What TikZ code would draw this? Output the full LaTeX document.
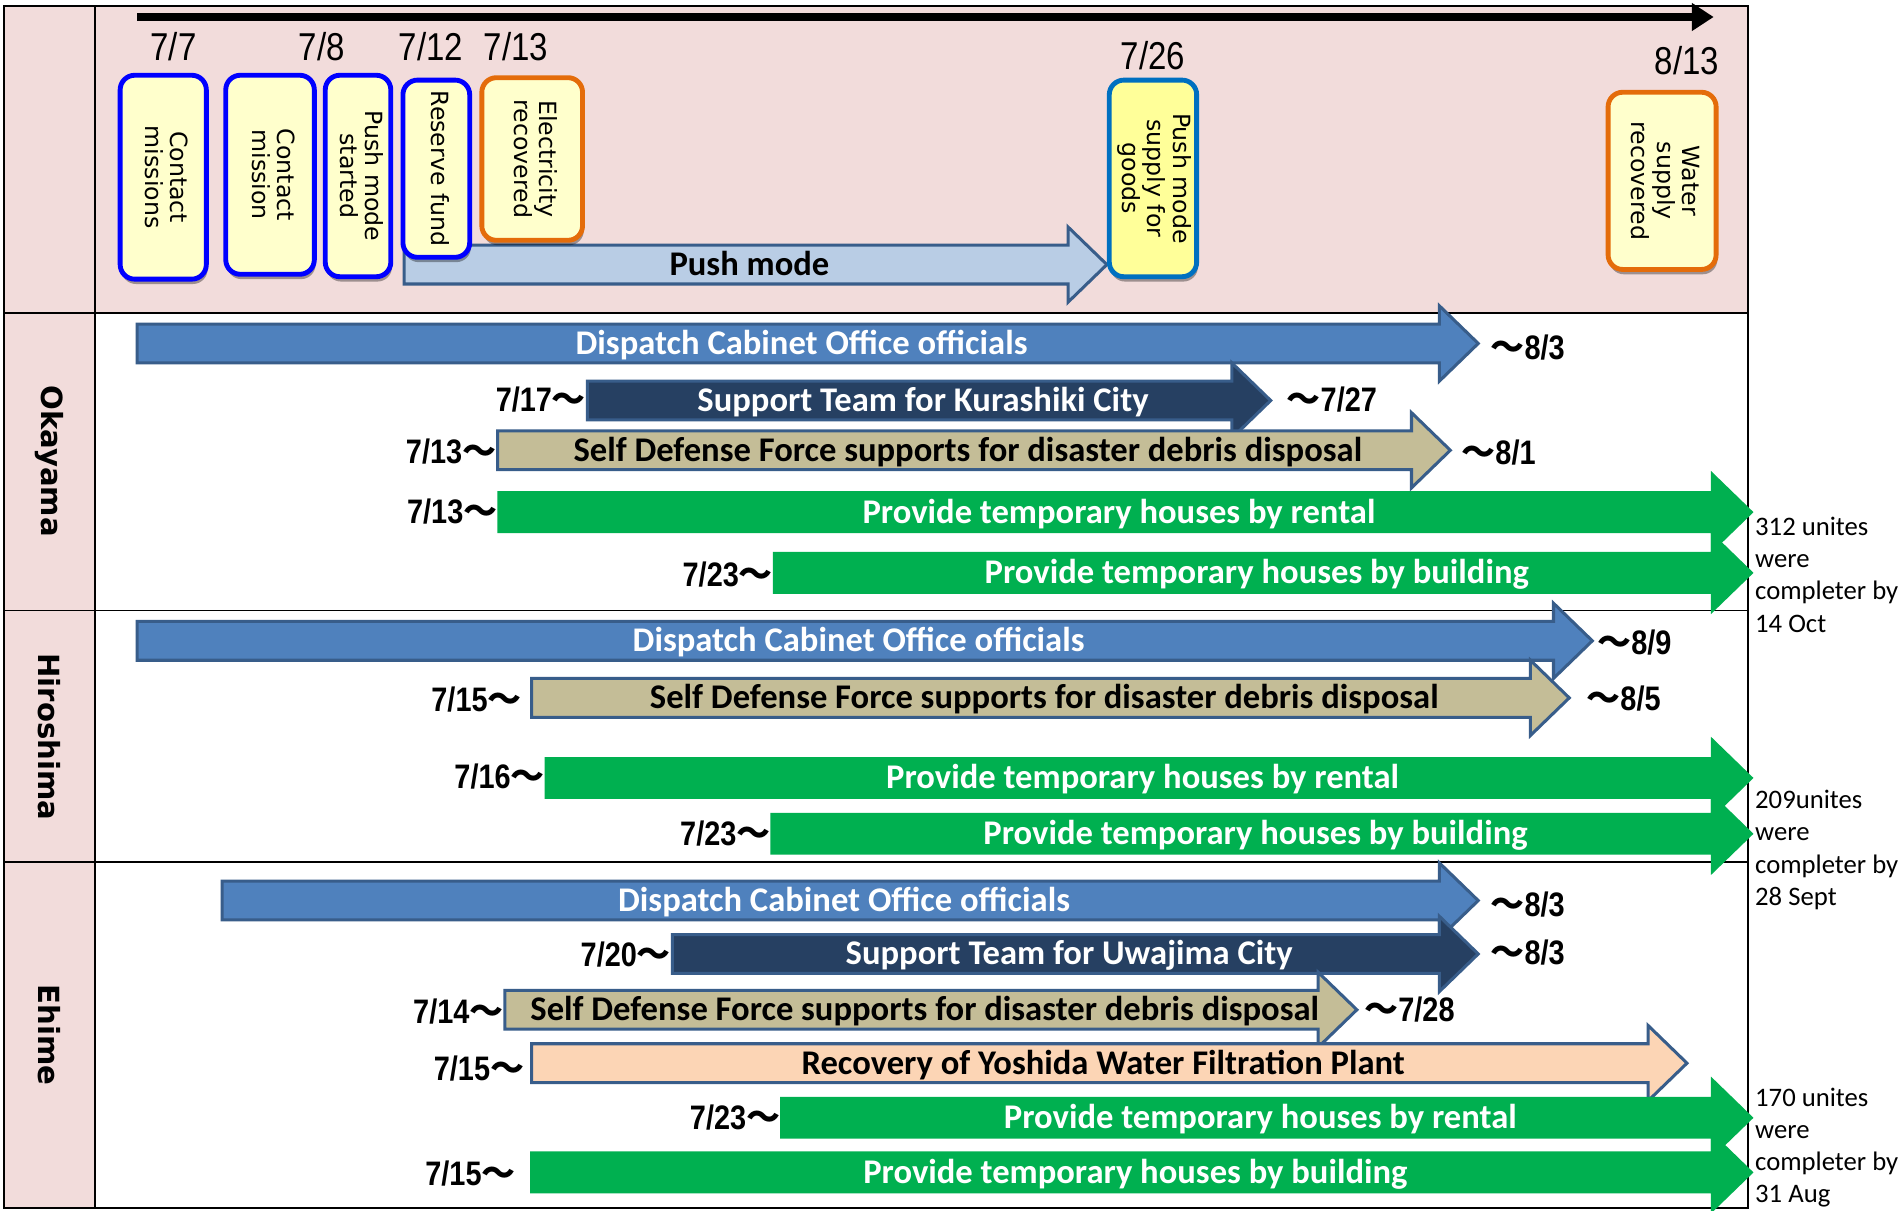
\documentclass[tikz,border=0pt]{standalone}
\usepackage{fontspec}
\usepackage{graphicx}
\setmainfont{Carlito}
\newfontfamily\datefont[FakeStretch=0.85]{Liberation Sans}
\newfontfamily\boxfont{DejaVu Sans}
\newfontfamily\cjkfont{Noto Sans CJK JP}
\usetikzlibrary{arrows.meta,shadows}
\definecolor{rowpink}{RGB}{242,220,219}
\definecolor{boxyellow}{RGB}{255,255,204}
\definecolor{goodsyellow}{RGB}{255,255,153}
\definecolor{edgeblue}{RGB}{0,0,255}
\definecolor{edgeorange}{RGB}{228,108,10}
\definecolor{edgesky}{RGB}{0,112,192}
\definecolor{barline}{RGB}{56,93,138}
\definecolor{barblue}{RGB}{79,129,189}
\definecolor{barnavy}{RGB}{38,64,98}
\definecolor{bartan}{RGB}{196,189,151}
\definecolor{barpeach}{RGB}{252,213,181}
\definecolor{bargreen}{RGB}{0,176,80}
\definecolor{barsky}{RGB}{185,205,229}
\newcommand{\tld}{{\cjkfont\bfseries ～}}
\newcommand{\vtext}[1]{\rotatebox{-90}{\begin{tabular}{@{}c@{}}#1\end{tabular}}}
\newcommand{\blockarrow}[6]{%
  \draw[#1bar] (#3,#5-16) -- (#4-32,#5-16) -- (#4-32,#5-31) -- (#4,#5) -- (#4-32,#5+31) -- (#4-32,#5+16) -- (#3,#5+16) -- cycle;
  \node[#1label] (#2) at ({(#3+#4)/2-5},#5) {#6};
}

\begin{document}
\begin{tikzpicture}[line join=miter,x=1pt,y=-1pt,
  bluebar/.style={fill=barblue,draw=barline,line width=2.5pt},
  navybar/.style={fill=barnavy,draw=barline,line width=2.5pt},
  tanbar/.style={fill=bartan,draw=barline,line width=2.5pt},
  peachbar/.style={fill=barpeach,draw=barline,line width=2.5pt},
  skybar/.style={fill=barsky,draw=barline,line width=2.5pt},
  greenbar/.style={fill=bargreen,draw=bargreen,line width=2.5pt},
  barfont/.style={inner sep=0pt,text height=18pt,text depth=0pt,font=\fontsize{28.5}{31}\selectfont\bfseries},
  bluelabel/.style={barfont,text=white},
  navylabel/.style={barfont,text=white},
  greenlabel/.style={barfont,text=white},
  tanlabel/.style={barfont,text=black},
  peachlabel/.style={barfont,text=black},
  skylabel/.style={barfont,text=black},
  topdate/.style={inner sep=0pt,text height=23pt,text depth=0pt,font=\datefont\fontsize{32}{34}\selectfont},
  bardate/.style={inner sep=0pt,text height=20pt,text depth=0pt,font=\datefont\bfseries\fontsize{28}{30}\selectfont},
  eventbox/.style={draw=edgeblue,fill=boxyellow,line width=4pt,rounded corners=12pt,inner sep=0pt,
    drop shadow={shadow xshift=1pt,shadow yshift=-4pt,opacity=0.35,fill=black},
    font=\boxfont\fontsize{19.5}{21}\selectfont},
  orangebox/.style={eventbox,draw=edgeorange},
  goodsbox/.style={eventbox,draw=edgesky,fill=goodsyellow},
  rowlabel/.style={inner sep=0pt,font=\boxfont\bfseries\fontsize{24}{26}\selectfont},
  note/.style={inner sep=0pt,align=left,font=\fontsize{22}{26.5}\selectfont}]
\useasboundingbox (0,0) rectangle (1568,997);
\fill[white] (0,0) rectangle (1568,997);
\fill[rowpink] (3,5) rectangle (1440,258);
\fill[rowpink] (3,258) rectangle (78,995);
\draw[line width=1.5pt] (3,5) rectangle (1440,995);
\draw[line width=1.5pt] (78,5) -- (78,995);
\foreach \y in {258,503,710} \draw[line width=1.5pt] (3,\y) -- (1440,\y);
\coordinate (tlstart) at (113,14);
\coordinate (tlend) at (1412,14);
\draw[line width=6pt,-{Triangle[length=18pt,width=22pt]}] (tlstart) -- (tlend);
\node[rowlabel] (okayama) at (40.5,380) {\rotatebox{-90}{Okayama}};
\node[rowlabel] (hiroshima) at (40.5,607) {\rotatebox{-90}{Hiroshima}};
\node[rowlabel] (ehime) at (40.5,853) {\rotatebox{-90}{Ehime}};
\blockarrow{sky}{pushmode}{333}{912}{218}{Push mode}
\node[eventbox,minimum width=71pt,minimum height=168pt] (contact1) at (134.5,146) {\vtext{Contact\\missions}};
\node[eventbox,minimum width=73pt,minimum height=164pt] (contact2) at (222.5,144) {\vtext{Contact\\mission}};
\node[eventbox,minimum width=54pt,minimum height=166pt] (pushstart) at (295,145) {\vtext{Push mode\\started}};
\node[eventbox,minimum width=55pt,minimum height=146pt] (reserve) at (359.5,139) {\vtext{Reserve fund}};
\node[orangebox,minimum width=83pt,minimum height=134pt] (electric) at (438.5,131) {\vtext{Electricity\\recovered}};
\node[goodsbox,minimum width=72pt,minimum height=162pt] (goods) at (950,147) {\vtext{Push mode\\supply for\\goods}};
\node[orangebox,minimum width=89pt,minimum height=146pt] (water) at (1369.5,149) {\vtext{Water\\supply\\recovered}};
\node[topdate] (d0707) at (143,38) {7/7};
\node[topdate] (d0708) at (265,38) {7/8};
\node[topdate] (d0712) at (355,38) {7/12};
\node[topdate] (d0713) at (425,38) {7/13};
\node[topdate] (d0726) at (950,46) {7/26};
\node[topdate] (d0813) at (1390,50) {8/13};
\blockarrow{blue}{okdispatch}{113}{1218}{283}{Dispatch Cabinet Office officials}
\blockarrow{navy}{okteam}{484}{1047}{330}{Support Team for Kurashiki City}
\blockarrow{tan}{oksdf}{410}{1195}{371}{Self Defense Force supports for disaster debris disposal}
\blockarrow{green}{okrental}{411}{1443}{422}{Provide temporary houses by rental}
\blockarrow{green}{okbuild}{638}{1443}{472}{Provide temporary houses by building}
\node[bardate,anchor=east] (okteamfrom) at (483,329) {7/17\tld};
\node[bardate,anchor=east] (oksdffrom) at (409,372) {7/13\tld};
\node[bardate,anchor=east] (okrentalfrom) at (410,421) {7/13\tld};
\node[bardate,anchor=east] (okbuildfrom) at (637,473) {7/23\tld};
\node[bardate,anchor=west] (okdispatchto) at (1228,286) {\tld8/3};
\node[bardate,anchor=west] (okteamto) at (1060,329) {\tld7/27};
\node[bardate,anchor=west] (oksdfto) at (1204,373) {\tld8/1};
\node[note,anchor=north west] (oknote) at (1446,426) {312 unites\\were\\completer by\\14 Oct};
\blockarrow{blue}{hidispatch}{113}{1312}{528}{Dispatch Cabinet Office officials}
\blockarrow{tan}{hisdf}{438}{1293}{575}{Self Defense Force supports for disaster debris disposal}
\blockarrow{green}{hirental}{450}{1443}{641}{Provide temporary houses by rental}
\blockarrow{green}{hibuild}{636}{1443}{687}{Provide temporary houses by building}
\node[bardate,anchor=east] (hisdffrom) at (430,576) {7/15\tld};
\node[bardate,anchor=east] (hirentalfrom) at (449,640) {7/16\tld};
\node[bardate,anchor=east] (hibuildfrom) at (635,687) {7/23\tld};
\node[bardate,anchor=west] (hidispatchto) at (1316,529) {\tld8/9};
\node[bardate,anchor=west] (hisdfto) at (1307,575) {\tld8/5};
\node[note,anchor=north west] (hinote) at (1446,651) {209unites\\were\\completer by\\28 Sept};
\blockarrow{blue}{ehdispatch}{183}{1218}{742}{Dispatch Cabinet Office officials}
\blockarrow{navy}{ehteam}{554}{1218}{786}{Support Team for Uwajima City}
\blockarrow{tan}{ehsdf}{416}{1118}{832}{Self Defense Force supports for disaster debris disposal}
\blockarrow{peach}{ehwater}{438}{1390}{876}{Recovery of Yoshida Water Filtration Plant}
\blockarrow{green}{ehrental}{644}{1443}{921}{Provide temporary houses by rental}
\blockarrow{green}{ehbuild}{438}{1443}{966}{Provide temporary houses by building}
\node[bardate,anchor=east] (ehteamfrom) at (553,786) {7/20\tld};
\node[bardate,anchor=east] (ehsdffrom) at (415,833) {7/14\tld};
\node[bardate,anchor=east] (ehwaterfrom) at (432,880) {7/15\tld};
\node[bardate,anchor=east] (ehrentalfrom) at (643,921) {7/23\tld};
\node[bardate,anchor=east] (ehbuildfrom) at (425,967) {7/15\tld};
\node[bardate,anchor=west] (ehdispatchto) at (1228,745) {\tld8/3};
\node[bardate,anchor=west] (ehteamto) at (1228,785) {\tld8/3};
\node[bardate,anchor=west] (ehsdfto) at (1124,832) {\tld7/28};
\node[note,anchor=north west] (ehnote) at (1446,896) {170 unites\\were\\completer by\\31 Aug};
\end{tikzpicture}
\end{document}
